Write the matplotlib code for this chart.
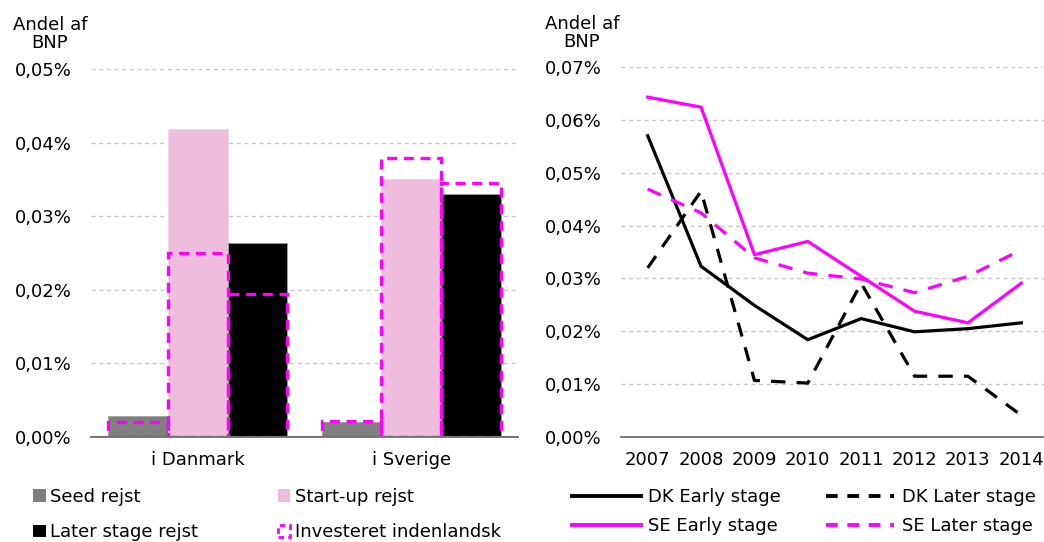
import numpy as np
import matplotlib
matplotlib.use("Agg")
import matplotlib.pyplot as plt
from matplotlib.patches import Patch
from matplotlib.lines import Line2D
from matplotlib.ticker import FuncFormatter, MultipleLocator

plt.rcParams["font.family"] = ["DejaVu Sans"]
FS = 13

# left panel: share of GDP (%)
countries = ["i Danmark", "i Sverige"]
seed = [0.0029, 0.0021]
startup = [0.0418, 0.0351]
later = [0.0264, 0.0330]
invest_dom = [0.0020, 0.0250, 0.0194, 0.0022, 0.0379, 0.0345]  # seed/start-up/later per country

# right panel
years = ["2007", "2008", "2009", "2010", "2011", "2012", "2013", "2014"]
dk_early = [0.0570, 0.0323, 0.0249, 0.0184, 0.0224, 0.0199, 0.0205, 0.0216]
dk_later = [0.0320, 0.0465, 0.0107, 0.0102, 0.0291, 0.0115, 0.0115, 0.0041]
se_early = [0.0643, 0.0624, 0.0345, 0.0370, 0.0304, 0.0238, 0.0216, 0.0291]
se_later = [0.0469, 0.0424, 0.0339, 0.0310, 0.0299, 0.0273, 0.0304, 0.0354]

MAG = "#ff00ff"
PINK = "#efbddc"
GREY = "#808080"

pct = FuncFormatter(lambda v, _: f"{v:.2f}%".replace(".", ","))

fig = plt.figure(figsize=(10.44, 5.42), dpi=100)
W, H = 1044, 542
axL = fig.add_axes([91 / W, 1 - 437 / H, 427 / W, 368 / H])
axR = fig.add_axes([621 / W, 1 - 437 / H, 427 / W, 370 / H])


def style(ax, top, step):
    ax.set_ylim(0, top)
    ax.yaxis.set_major_locator(MultipleLocator(step))
    ax.yaxis.set_major_formatter(pct)
    ax.grid(axis="y", color="#c8c8c8", ls=(0, (3, 2.5)), lw=1)
    ax.set_axisbelow(True)
    for s in ("left", "right", "top"):
        ax.spines[s].set_visible(False)
    ax.spines["bottom"].set_color("#707070")
    ax.spines["bottom"].set_linewidth(1.3)
    ax.tick_params(axis="both", length=0, labelsize=FS)
    ax.tick_params(axis="y", pad=14)
    ax.tick_params(axis="x", pad=10)


# ---- left: bars
x = np.arange(len(countries))
w = 0.28
axL.bar(x - w, seed, w, color=GREY, edgecolor="#a0a0a0", lw=0.6)
axL.bar(x, startup, w, color=PINK, edgecolor="#f4d4e6", lw=0.6)
axL.bar(x + w, later, w, color="black", edgecolor="#a0a0a0", lw=0.6)
xi = np.concatenate([[c - w, c, c + w] for c in x])
axL.bar(xi, invest_dom, w, fill=False, edgecolor=MAG, lw=2.4, ls=(0, (3, 2)))
axL.set_xlim(-0.5, 1.5)
axL.set_xticks(x)
axL.set_xticklabels(countries)
style(axL, 0.05, 0.01)
axL.axhline(0, color="#707070", lw=1.3)

# ---- right: lines
xr = np.arange(len(years))
axR.plot(xr, dk_early, color="black", lw=2.3)
axR.plot(xr, dk_later, color="black", lw=2.3, ls=(0, (4.5, 3.5)))
axR.plot(xr, se_early, color=MAG, lw=2.3)
axR.plot(xr, se_later, color=MAG, lw=2.3, ls=(0, (4.5, 3.5)))
axR.set_xlim(-0.5, 7.5)
axR.set_xticks(xr)
axR.set_xticklabels(years)
style(axR, 0.07, 0.01)

fig.text(50 / W, 1 - 34 / H, "Andel af\nBNP", ha="center", va="center", fontsize=FS, linespacing=1.05)
fig.text(582 / W, 1 - 33 / H, "Andel af\nBNP", ha="center", va="center", fontsize=FS, linespacing=1.05)

# legends
hL = [Patch(facecolor=GREY, edgecolor="none"),
      Patch(facecolor=PINK, edgecolor="none"),
      Patch(facecolor="black", edgecolor="none"),
      Patch(fill=False, edgecolor=MAG, lw=2, ls=(0, (2, 1.5)))]
labL = ["Seed rejst", "Start-up rejst", "Later stage rejst", "Investeret indenlandsk"]
fig.legend([hL[0], hL[2], hL[1], hL[3]], [labL[0], labL[2], labL[1], labL[3]],
           ncol=2, loc="upper left", bbox_to_anchor=(24 / W, 1 - 479 / H),
           frameon=False, fontsize=FS, handlelength=0.7, handleheight=0.7,
           handletextpad=0.25, columnspacing=4.4, labelspacing=0.95, borderpad=0)

hR = [Line2D([], [], color="black", lw=2.8),
      Line2D([], [], color=MAG, lw=2.8),
      Line2D([], [], color="black", lw=2.8, ls=(0, (3, 2.5))),
      Line2D([], [], color=MAG, lw=2.8, ls=(0, (3, 2.5)))]
labR = ["DK Early stage", "SE Early stage", "DK Later stage", "SE Later stage"]
fig.legend(hR, labR, ncol=2, loc="upper left", bbox_to_anchor=(563 / W, 1 - 479 / H),
           frameon=False, fontsize=FS, handlelength=3.8, handletextpad=0.4,
           columnspacing=2.5, labelspacing=0.6, borderpad=0)

fig.savefig("out.png", dpi=100)
